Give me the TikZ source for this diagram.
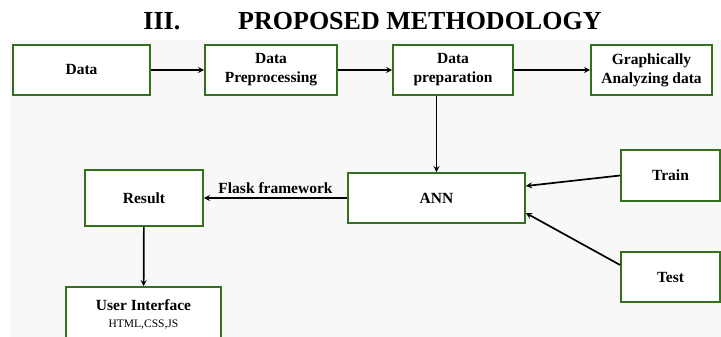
\documentclass[tikz,border=0pt]{standalone}
\usepackage{fontspec}
\setmainfont{Liberation Serif}
\usepackage{tikz}
\usetikzlibrary{arrows,shapes,positioning}
\usepackage{xcolor}
\definecolor{mgreen}{RGB}{52,112,30}
\definecolor{mbg}{RGB}{248,248,248}
\tikzstyle{stage} = [rectangle, draw=mgreen, line width=1.7pt, fill=white, text centered, align=center, font=\bfseries\fontsize{15.5}{19}\selectfont]
\tikzstyle{arrow} = [line width=1.7pt,->,>=stealth,color=black]

\begin{document}
\begin{tikzpicture}[x=1pt,y=-1pt]
\useasboundingbox (0,0) rectangle (721,337);
\fill[mbg] (10,40) rectangle (721,337);

% Heading
\node[font=\bfseries\fontsize{26}{30}\selectfont] (title) at (372.5,21) {III.\hspace{58pt}PROPOSED METHODOLOGY};

% Top row
\node[stage, minimum width=137pt, minimum height=50pt] (data) at (81.5,70) {Data};
\node[stage, minimum width=132pt, minimum height=50pt] (preproc) at (271,70) {Data\\Preprocessing};
\node[stage, minimum width=120pt, minimum height=50pt] (prep) at (453,70) {Data\\preparation};
\node[stage, minimum width=121pt, minimum height=50pt] (graph) at (651.5,70) {Graphically\\Analyzing data};

% Model and inputs
\node[stage, minimum width=177pt, minimum height=50pt] (ann) at (436.5,198) {ANN};
\node[stage, minimum width=99pt, minimum height=51pt] (train) at (670.5,175.5) {Train};
\node[stage, minimum width=99pt, minimum height=50pt] (test) at (670.5,277) {Test};

% Output side
\node[stage, minimum width=118pt, minimum height=56pt] (result) at (144,198) {Result};
\node[stage, minimum width=155pt, minimum height=54pt] (ui) at (143.5,314) {User Interface\\[-2pt]{\mdseries\fontsize{11.5}{13}\selectfont HTML,CSS,JS}};

% Arrows
\draw[arrow] (data) -- (preproc);
\draw[arrow] (preproc) -- (prep);
\draw[arrow] (prep) -- (graph);
\draw[arrow] (ann.north |- prep.south) -- (ann.north);
\draw[arrow] (train.west) -- ([yshift=12pt]ann.east);
\draw[arrow] ([yshift=12pt]test.west) -- ([yshift=-15pt]ann.east);
\draw[arrow] (ann) -- node[above, font=\bfseries\fontsize{15.5}{19}\selectfont] {Flask framework} (result);
\draw[arrow] (result) -- (ui);
\end{tikzpicture}
\end{document}
